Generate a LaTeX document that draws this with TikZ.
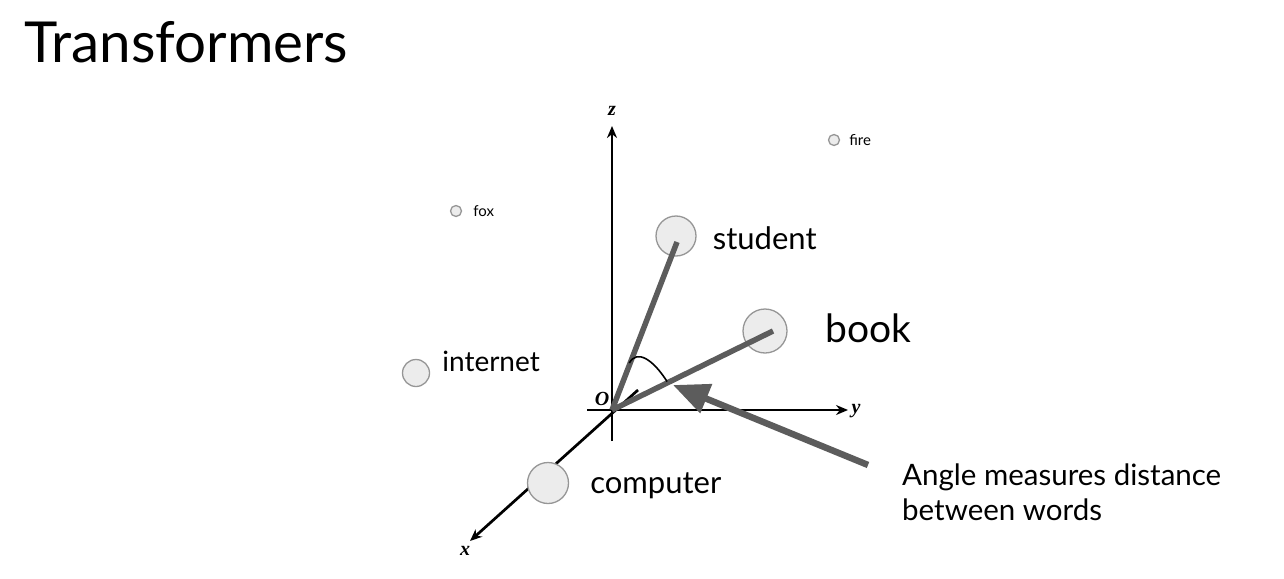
\documentclass[tikz,border=0pt]{standalone}
\usepackage{fontspec}
\setmainfont{Lato}
\newfontfamily\axisfont{Liberation Serif}
\usetikzlibrary{arrows.meta,positioning,calc}
\definecolor{vecgray}{RGB}{92,92,92}
\definecolor{dotfill}{RGB}{236,236,236}
\definecolor{dotline}{RGB}{150,150,150}
\tikzset{
  word/.style={circle,draw=dotline,fill=dotfill,line width=1.3pt,inner sep=0pt,minimum size=#1},
  wordtext/.style={inner sep=0pt,font=\fontsize{#1}{#1}\selectfont},
  vec/.style={draw=vecgray,line width=5.5pt},
  axis/.style={line width=2.7pt,-{Stealth[length=12pt,width=10pt]}},
  axlabel/.style={inner sep=0pt,font=\axisfont\bfseries\itshape\fontsize{20}{20}\selectfont},
}

\begin{document}
\begin{tikzpicture}[x=1pt,y=-1pt]
	  \useasboundingbox (0,0) rectangle (1284,578);
	  \node[anchor=base west,inner sep=0pt,font=\fontsize{56.5}{56.5}\selectfont] (title) at (24,63) {Transformers};
	  % axes
	  \coordinate (O) at (612,410);
	  \coordinate (zbot) at (612,441);
	  \coordinate (ztip) at (612,126);
	  \coordinate (yleft) at (587,410);
	  \coordinate (ytip) at (848,410);
	  \coordinate (xback) at (638,390);
	  \coordinate (xtip) at (470,541);
	  \draw[axis] (zbot) -- (ztip);
	  \draw[axis] (yleft) -- (ytip);
	  \draw[axis] (xback) -- (xtip);
	  \node[axlabel] (zlab) at (612,111) {z};
	  \node[axlabel] (ylab) at (856,411) {y};
	  \node[axlabel] (xlab) at (465,551) {x};
	  \node[axlabel] (olab) at (602,399) {O};
	  % words
	  \node[word=40pt] (student) at (676,236) {};
	  \node[word=44pt] (book) at (765,331) {};
	  \node[word=27pt] (internet) at (416,373) {};
	  \node[word=41pt] (computer) at (548,483) {};
	  \node[word=11pt] (fox) at (456,211) {};
	  \node[word=11pt] (fire) at (834,140) {};
	  \node[wordtext=31,right=16pt of student,yshift=-2pt] (studentlbl) {student};
	  \node[wordtext=39,right=38pt of book,yshift=3pt] (booklbl) {book};
	  \node[wordtext=28,right=12pt of internet,yshift=12pt] (internetlbl) {internet};
	  \node[wordtext=31,right=21pt of computer,yshift=-3pt] (computerlbl) {computer};
	  \node[wordtext=15,right=11pt of fox] (foxlbl) {fox};
	  \node[wordtext=15,right=9pt of fire] (firelbl) {fire};
	  % vectors and angle
	  \draw[vec] (O) -- ($(student.center)+(1,6)$);
	  \draw[vec] (O) -- ($(book.center)+(8,0)$);
	  \coordinate (arcA) at ($(O)!0.27!(student.center)$);
	  \coordinate (arcB) at ($(O)!0.36!(book.center)$);
	  \draw[line width=1.6pt] (arcA) .. controls ($(arcA)+(8,-14)$) and ($(arcB)+(-14,-22)$) .. (arcB);
	  \node[anchor=north west,align=left,inner sep=0pt,font=\fontsize{29.5}{35}\selectfont] (note) at (902,464) {Angle measures distance\\between words};
	  \coordinate (tail) at (868,465);
	  \coordinate (tip) at (673,385);
	  \draw[vecgray,line width=6.5pt,-{Triangle[length=36pt,width=30pt]}] (tail) -- (tip);
\end{tikzpicture}
\end{document}
